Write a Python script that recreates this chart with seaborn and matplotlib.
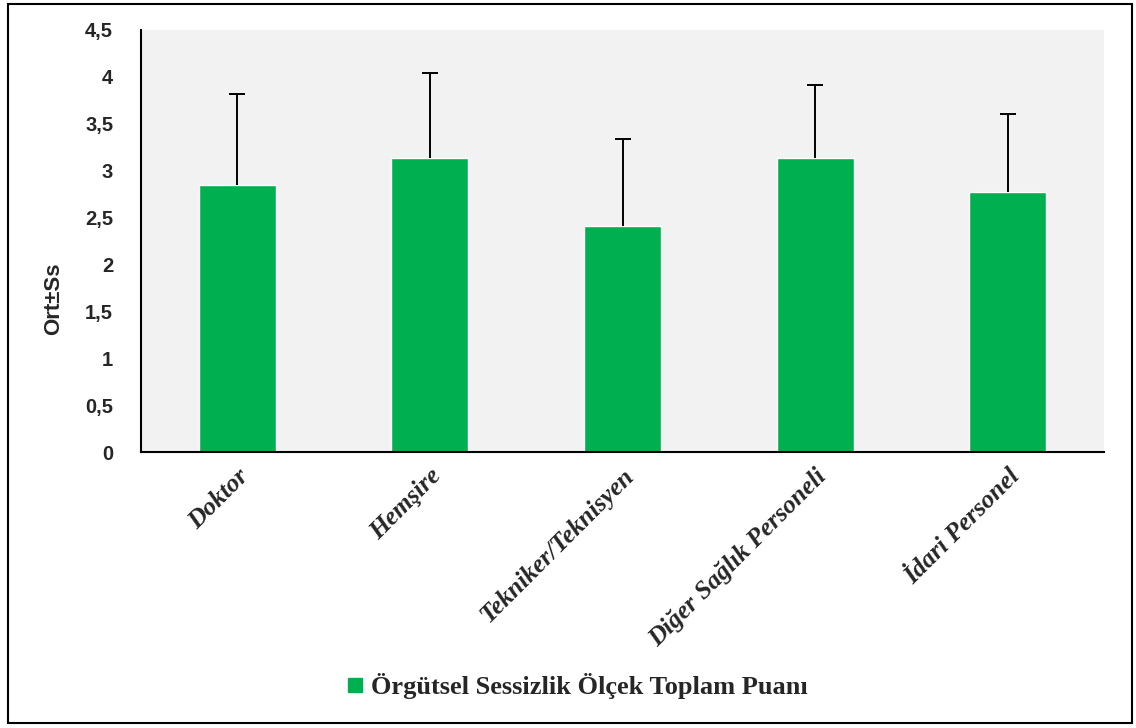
import numpy as np
import pandas as pd
import matplotlib
matplotlib.use('Agg')
import matplotlib.pyplot as plt
import seaborn as sns
from matplotlib.patches import Rectangle
from matplotlib.lines import Line2D

# values (mean and standard deviation)
groups = ['Doktor', 'Hemşire', 'Tekniker/Teknisyen', 'Diğer Sağlık Personeli', 'İdari Personel']
means = [2.85, 3.14, 2.41, 3.13, 2.77]
sds = [0.97, 0.90, 0.93, 0.78, 0.83]
yticks = [0, 0.5, 1, 1.5, 2, 2.5, 3, 3.5, 4, 4.5]
ytick_labels = ['0', '0,5', '1', '1,5', '2', '2,5', '3', '3,5', '4', '4,5']
legend_label = 'Örgütsel Sessizlik Ölçek Toplam Puanı'

df = pd.DataFrame({'grup': groups, 'ort': means, 'ss': sds})

sns.set_style('white')
green = '#00B050'

fig = plt.figure(figsize=(11.36, 7.28), dpi=100)
ax = fig.add_axes([141/1136, 1 - 452/728, (1104 - 141)/1136, (452 - 30)/728])
ax.set_facecolor('#F2F2F2')

sns.barplot(data=df, x='grup', y='ort', color=green, width=0.40, saturation=1, ax=ax, errorbar=None)
# only the upper half of the SD bar is shown
eb = ax.errorbar(np.arange(len(groups)), df['ort'], yerr=[np.zeros(len(groups)), df['ss']],
                 fmt='none', ecolor='black', elinewidth=1.4, capsize=6, capthick=1.4, zorder=3)
eb[1][0].set_visible(False)  # hide the lower caps sitting on the bar tops

ax.set_ylim(0, 4.5)
ax.set_xlim(-0.5, len(groups) - 0.5)
ax.set_yticks(yticks)
ax.set_yticklabels(ytick_labels, fontfamily='Liberation Sans', fontweight='bold', fontsize=14.5)
ax.tick_params(axis='y', direction='out', length=8, width=1.3, color='black', pad=12)

# category labels at centres, tick marks at category boundaries
ax.set_xticks(np.arange(len(groups)))
ax.set_xticklabels(groups, rotation=45, ha='right', rotation_mode='anchor',
                   fontfamily='Liberation Serif', fontweight='bold', fontstyle='italic', fontsize=18.5)
ax.tick_params(axis='x', which='major', length=0, pad=9)
ax.set_xticks(np.arange(len(groups) + 1) - 0.5, minor=True)
ax.tick_params(axis='x', which='minor', direction='out', length=7, width=1.3, color='black')

for side in ['top', 'right']:
    ax.spines[side].set_visible(False)
for side in ['left', 'bottom']:
    ax.spines[side].set_color('black')
    ax.spines[side].set_linewidth(1.5)

ax.set_xlabel('')
ax.set_ylabel('Ort±Ss', fontfamily='Liberation Sans', fontweight='bold', fontsize=16)
ax.yaxis.set_label_coords(-0.080, 0.363)

handle = Line2D([], [], marker='s', color=green, linestyle='none', markersize=10)
fig.legend([handle], [legend_label], loc='center', bbox_to_anchor=(575/1136, 1 - 686/728),
           frameon=False, handletextpad=0.1, handlelength=1.0,
           prop={'family': 'Liberation Serif', 'weight': 'bold', 'size': 19})

# outer frame around the whole chart
fig.patches.append(Rectangle((8/1136, 5/728), 1124/1136, 719/728, transform=fig.transFigure,
                             fill=False, edgecolor='black', linewidth=1.5))

fig.savefig('out.png', dpi=100)
